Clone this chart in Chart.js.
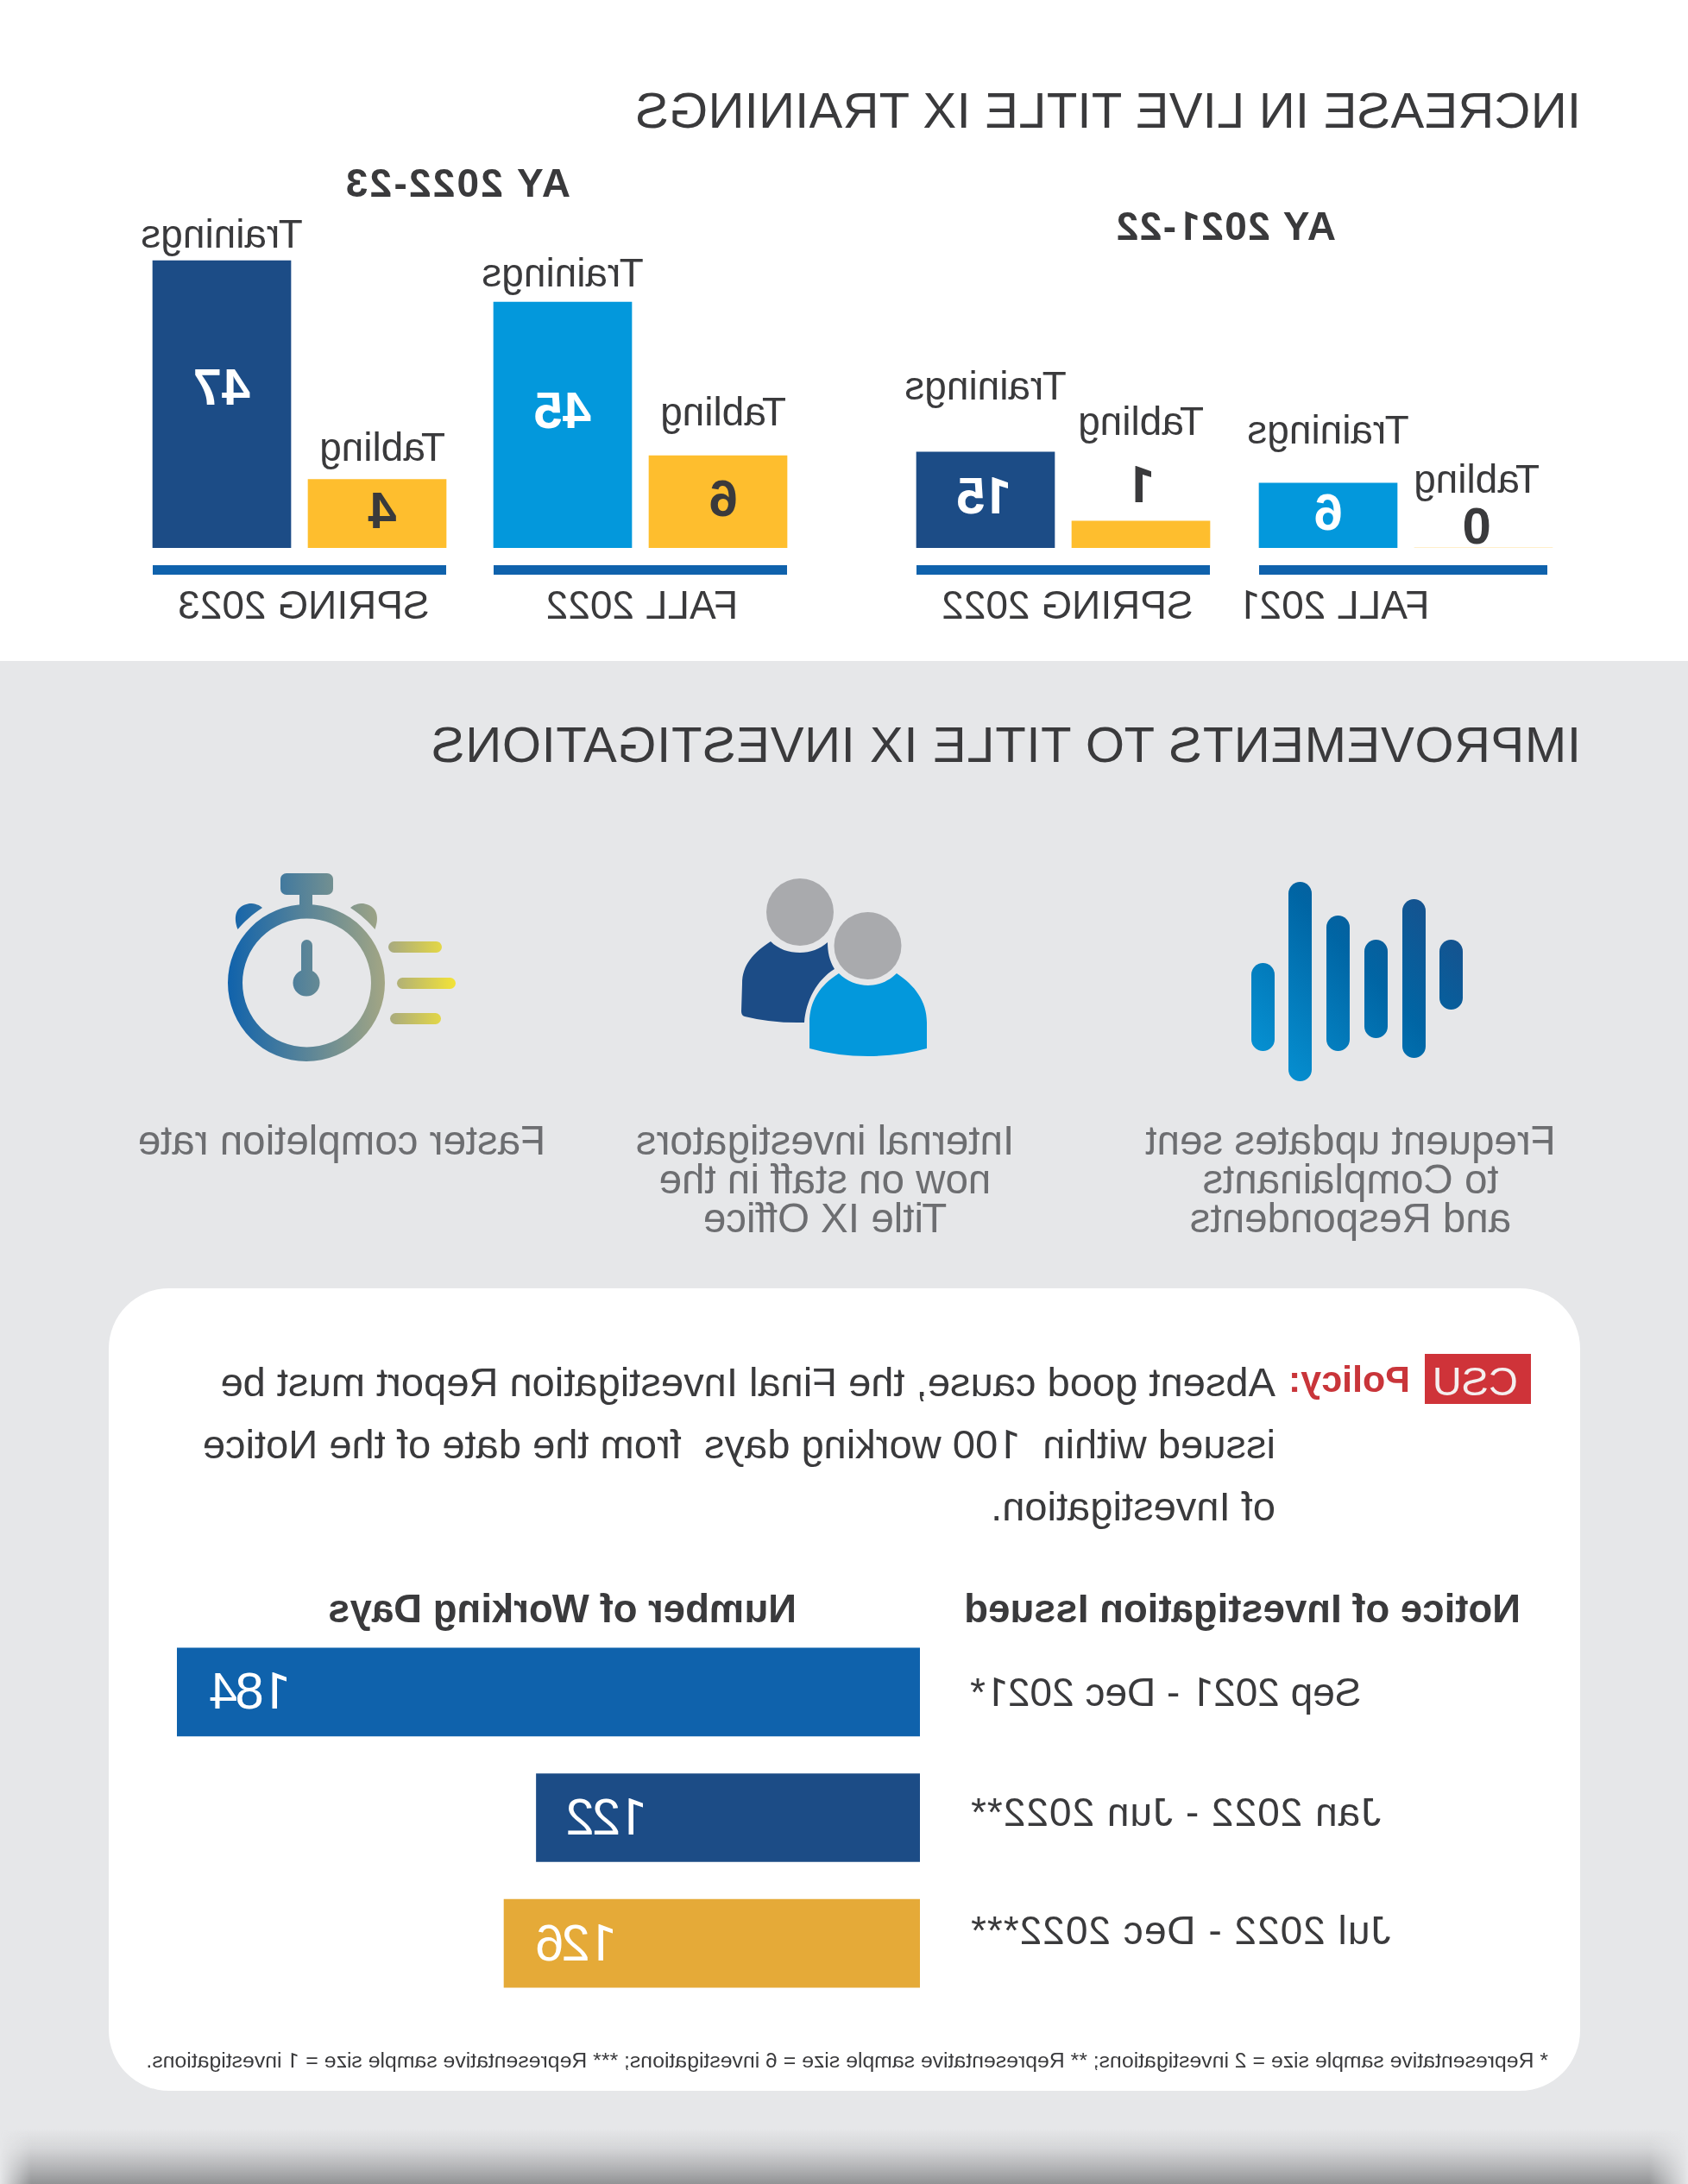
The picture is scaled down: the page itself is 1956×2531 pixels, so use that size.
<!DOCTYPE html>
<html>
<head>
<meta charset="utf-8">
<title>Title IX trainings and investigations</title>
<script src="https://cdn.jsdelivr.net/npm/chart.js@4"></script>
<style>
    /* The sheet's figure 1 has no foot, Liberation's does, so borrow just that glyph */
    @font-face { font-family: "One"; src: local("Roboto"); font-weight: normal; unicode-range: U+31; }
    @font-face { font-family: "One"; src: local("Roboto Bold"); font-weight: bold; unicode-range: U+31; }
    html, body { margin: 0; padding: 0; background: #fff; }
    body { width: 1956px; height: 2531px; overflow: hidden; position: relative; font-family: "One", "Liberation Sans", Arial, sans-serif; }
    /* The whole sheet is a mirror image, so everything inside #page is laid out normally and flipped once */
    #page { position: absolute; left: 0; top: 0; width: 1956px; height: 2531px; transform: scaleX(-1); overflow: hidden; }
    #band { position: absolute; left: 0; top: 766px; width: 1956px; height: 1765px; background: #e6e7e9; }
    #shade { position: absolute; left: 0; top: 2467px; width: 1956px; height: 64px;
        background: linear-gradient(to bottom, rgba(146,147,149,0), rgba(146,147,149,0.2) 35%, rgba(146,147,149,0.6) 70%, rgba(146,147,149,1));
        -webkit-mask-image: linear-gradient(to right, transparent 0, #000 45px, #000 1920px, transparent 1956px); }
    #card { position: absolute; left: 125px; top: 1493px; width: 1705px; height: 930px; background: #fff; border-radius: 70px; }
    #csuBox { position: absolute; left: 182px; top: 1569px; width: 123px; height: 58px; background: #cf3339; }
    canvas { position: absolute; }
    .t { position: absolute; white-space: pre; line-height: 1; color: #3a3a3c; }
    .title { font-size: 58px; left: 124px; }
    .year { font-size: 46px; font-weight: bold; }
    .cap { font-size: 47.5px; line-height: 45px; color: #6d6e71; width: 700px; text-align: center; }
    .body { font-size: 47.1px; left: 478px; }
    .head { font-size: 45.5px; font-weight: bold; top: 1842px; }
    #icons { position: absolute; left: 0; top: 0; }
</style>
</head>
<body>
<div id="page">
    <div id="band"></div>
    <div id="shade"></div>
    <div id="card"></div>
    <div id="csuBox"></div>

    <div class="t title" style="top:99px;letter-spacing:0.25px">INCREASE IN LIVE TITLE IX TRAININGS</div>
    <div class="t title" style="top:834px;letter-spacing:0.65px">IMPROVEMENTS TO TITLE IX INVESTIGATIONS</div>
    <div class="t year" style="left:408px;top:239px;letter-spacing:1.5px">AY 2021-22</div>
    <div class="t year" style="left:1295px;top:189px;letter-spacing:2.2px">AY 2022-23</div>

    <div class="t cap" style="left:41px;top:1299px">Frequent updates sent<br>to Complainants<br>and Respondents</div>
    <div class="t cap" style="left:650px;top:1299px">Internal investigators<br>now on staff in the<br>Title IX Office</div>
    <div class="t cap" style="left:1210px;top:1299px">Faster completion rate</div>

    <div class="t" style="left:197px;top:1577px;font-size:47px;color:#f4eeee">CSU</div>
    <div class="t" style="left:322px;top:1577px;font-size:43px;font-weight:bold;color:#c9353a">Policy:</div>
    <div class="t body" style="top:1578px">Absent good cause, the Final Investigation Report must be</div>
    <div class="t body" style="top:1650px">issued within  100 working days  from the date of the Notice</div>
    <div class="t body" style="top:1722px">of Investigation.</div>

    <div class="t head" style="left:194px">Notice of Investigation Issued</div>
    <div class="t head" style="left:1033px">Number of Working Days</div>

    <div class="t" style="left:162px;top:2376px;font-size:24.8px">* Representative sample size = 2 investigations; ** Representative sample size = 6 investigations; *** Representative sample size = 1 investigations.</div>

    <canvas id="days" width="1500" height="437" style="left:300px;top:1888px"></canvas>
</div>

<svg id="icons" width="1956" height="2531">
    <defs>
        <linearGradient id="watchFill" gradientUnits="userSpaceOnUse" x1="263" y1="0" x2="528" y2="0">
            <stop offset="0" stop-color="#0f62ac"/>
            <stop offset="0.69" stop-color="#a3a684"/>
            <stop offset="1" stop-color="#f3e337"/>
        </linearGradient>
        <linearGradient id="waveFill" gradientUnits="userSpaceOnUse" x1="1450" y1="1253" x2="1695" y2="1022">
            <stop offset="0" stop-color="#0798da"/>
            <stop offset="0.55" stop-color="#0065a4"/>
            <stop offset="1" stop-color="#1f4a85"/>
        </linearGradient>
    </defs>

    <!-- stopwatch -->
    <g fill="url(#watchFill)">
        <path fill-rule="evenodd" d="M264 1139a91 91 0 1 0 182 0a91 91 0 1 0 -182 0z M281 1139a74.500 74.500 0 1 1 149 0a74.500 74.500 0 1 1 -149 0z"/>
        <rect x="325" y="1012" width="61" height="25" rx="7"/>
        <rect x="347" y="1035" width="15" height="18"/>
        <path d="M275.500 1077C270 1062 273 1050 289 1047C296 1047 301 1049 304 1052C292 1060 283 1068 275.500 1077z"/>
        <path d="M434.500 1077C440 1062 437 1050 421 1047C414 1047 409 1049 406 1052C418 1060 427 1068 434.500 1077z"/>
        <rect x="349" y="1089" width="13" height="45" rx="6.500"/>
        <circle cx="355" cy="1139" r="15.500"/>
        <rect x="450" y="1091" width="62" height="13" rx="6.500"/>
        <rect x="460" y="1133" width="68" height="13" rx="6.500"/>
        <rect x="452" y="1174" width="59" height="13" rx="6.500"/>
    </g>

    <!-- two people -->
    <path fill="#1c4c86" d="M893 1091C873 1104 860 1118 860 1140L859 1172Q859 1177 863 1178Q895 1186 932 1185C934 1160 946 1136 967 1123C961 1113 959 1103 959 1092C950 1100 939 1104 927 1104C914 1104 902 1100 893 1091z"/>
    <path fill="#0398dc" d="M972 1128C950 1142 938 1160 938 1185L938 1215Q970 1224 1006 1224Q1042 1224 1074 1215L1074 1185C1074 1160 1060 1142 1039 1128C1030 1137 1018 1142 1006 1142C994 1142 981 1137 972 1128z"/>
    <circle cx="927" cy="1057" r="39" fill="#a9aaad"/>
    <circle cx="1005.500" cy="1096" r="39" fill="#a9aaad"/>

    <!-- sound wave -->
    <g fill="url(#waveFill)">
        <rect x="1450" y="1116" width="27" height="102" rx="13.500"/>
        <rect x="1493" y="1022" width="27" height="231" rx="13.500"/>
        <rect x="1537" y="1061" width="27" height="157" rx="13.500"/>
        <rect x="1581" y="1089" width="27" height="114" rx="13.500"/>
        <rect x="1625" y="1042" width="27" height="184" rx="13.500"/>
        <rect x="1668" y="1089" width="27" height="81" rx="13.500"/>
    </g>
</svg>

<script>
// Top charts: one small chart per semester, oldest first
const semesters = ['FALL 2021', 'SPRING 2022', 'FALL 2022', 'SPRING 2023'];
const activities = ['Tabling', 'Trainings'];
const tablingCounts = [0, 1, 6, 4];
const trainingCounts = [6, 15, 45, 47];
// The drawn bars are not to scale with the printed counts, so their lengths are read off separately
const tablingBars = [0, 4.4, 15.1, 11.2];
const trainingBars = [10.6, 15.7, 40.2, 47];

// Bottom chart
const noticePeriods = ['Sep 2021 - Dec 2021*', 'Jan 2022 - Jun 2022**', 'Jul 2022 - Dec 2022***'];
const workingDays = [184, 122, 126];
const workingDayBars = [184, 95, 103];

const FONT = 'One, "Liberation Sans", Arial, sans-serif';
const DARK = '#3a3a3c';
const NAVY = '#1c4c86';
const SKY = '#0398dc';
const GOLD = '#febe2e';
const RULE = '#0f62ac';

// Canvas placement and the hand-set label offsets of each semester
const chartLeft = [147, 544, 1034, 1429];
const trainingColors = [SKY, NAVY, SKY, NAVY];
const nameLift = [[64, 46], [100, 61], [35, 18], [22, 15]];
const valueShift = [[-22, 38], [-38, 55], [53, 129], [40, 150]];
const tablingNudge = [8, 0, -6, -6];
const semesterX = [411, 719, 1212, 1604];
const ruleInset = [6, 0, 0, 0];
const periodLift = [-3, 3, 12];
const periodSpacing = [0, 1, 1];
const dayInset = [40, 37, 39];

function putText( ctx, text, x, y, font, color, align, baseline ) {
    ctx.font = font;
    ctx.fillStyle = color;
    ctx.textAlign = align;
    ctx.textBaseline = baseline;
    ctx.fillText(text, x, y);
}

// Roboto's 1 sits loose next to Liberation's digits, so close the numbers that have one
function tightenOnes( ctx, text ) {
    ctx.letterSpacing = text.length > 1 && text.includes('1') ? '-3px' : '0px';
}

// Labels above and inside the bars, the blue rule and the semester name
function semesterPlugin( i, left ) {
    return {
        id: 'semesterLabels',
        afterDatasetsDraw( chart ) {
            const ctx = chart.ctx;
            const bars = chart.getDatasetMeta(0).data;
            const counts = [tablingCounts[i], trainingCounts[i]];
            const ruleY = chart.chartArea.bottom + 20;
            ctx.save();

            bars.forEach(( bar, b ) => {
                const nudge = b === 0 ? tablingNudge[i] : 0;
                const count = String(counts[b]);
                putText(ctx, activities[b], bar.x + nudge, bar.y - nameLift[i][b], '46px ' + FONT, DARK, 'center', 'alphabetic');
                tightenOnes(ctx, count);
                putText(ctx, count, bar.x + nudge, bar.y + valueShift[i][b], 'bold 60px ' + FONT, b === 1 ? '#ffffff' : DARK, 'center', 'middle');
                ctx.letterSpacing = '0px';
            });

            const ruleLeft = bars[0].x - bars[0].width / 2 + ruleInset[i];
            const ruleRight = bars[1].x + bars[1].width / 2;
            ctx.fillStyle = RULE;
            ctx.fillRect(ruleLeft, ruleY, ruleRight - ruleLeft, 11);
            putText(ctx, semesters[i], semesterX[i] - left, 717 - 240, '46px ' + FONT, DARK, 'center', 'alphabetic');
            ctx.restore();
        },
    };
}

function drawSemesterCharts() {
    semesters.forEach(( semester, i ) => {
        const canvas = document.createElement('canvas');
        canvas.width = 420;
        canvas.height = 490;
        canvas.style.left = chartLeft[i] + 'px';
        canvas.style.top = '240px';
        document.getElementById('page').appendChild(canvas);

        new Chart(canvas.getContext('2d'), {
            type: 'bar',
            data: {
                labels: activities,
                datasets: [{
                    label: semester,
                    data: [tablingBars[i], trainingBars[i]],
                    backgroundColor: [GOLD, trainingColors[i]],
                    barThickness: 160,
                }],
            },
            options: {
                responsive: false,
                animation: false,
                devicePixelRatio: 1,
                layout: { padding: { left: 0, right: 60, top: 0, bottom: 95 } },
                plugins: { legend: { display: false }, tooltip: { enabled: false } },
                scales: {
                    x: { display: false },
                    y: { display: false, min: 0, max: 55.75 },
                },
            },
            plugins: [semesterPlugin(i, chartLeft[i])],
        });
    });
}

// Period names on the left of the bars, day counts inside their far end
const daysLabels = {
    id: 'daysLabels',
    afterDatasetsDraw( chart ) {
        const ctx = chart.ctx;
        const bars = chart.getDatasetMeta(0).data;
        ctx.save();
        bars.forEach(( bar, i ) => {
            const days = String(workingDays[i]);
            ctx.letterSpacing = periodSpacing[i] + 'px';
            putText(ctx, noticePeriods[i], chart.chartArea.left - 58, bar.y - periodLift[i], '46px ' + FONT, DARK, 'right', 'middle');
            tightenOnes(ctx, days);
            putText(ctx, days, bar.x - dayInset[i], bar.y + 3, '60px ' + FONT, '#ffffff', 'right', 'middle');
            ctx.letterSpacing = '0px';
        });
        ctx.restore();
    },
};

function drawDaysChart() {
    new Chart(document.getElementById('days').getContext('2d'), {
        type: 'bar',
        data: {
            labels: noticePeriods,
            datasets: [{
                label: 'Number of Working Days',
                data: workingDayBars,
                backgroundColor: [RULE, NAVY, '#e5aa38'],
                barThickness: 102,
            }],
        },
        options: {
            indexAxis: 'y',
            responsive: false,
            animation: false,
            devicePixelRatio: 1,
            layout: { padding: { left: 590, right: 49, top: 0, bottom: 0 } },
            plugins: { legend: { display: false }, tooltip: { enabled: false } },
            scales: {
                x: { display: false, min: 0, max: 184 },
                y: { display: false },
            },
        },
        plugins: [daysLabels],
    });
}

// Canvas text needs the borrowed glyph loaded before the charts paint
Promise.all([document.fonts.load('46px One', '1'), document.fonts.load('bold 60px One', '1')])
    .finally(() => {
        drawSemesterCharts();
        drawDaysChart();
    });
</script>
</body>
</html>
